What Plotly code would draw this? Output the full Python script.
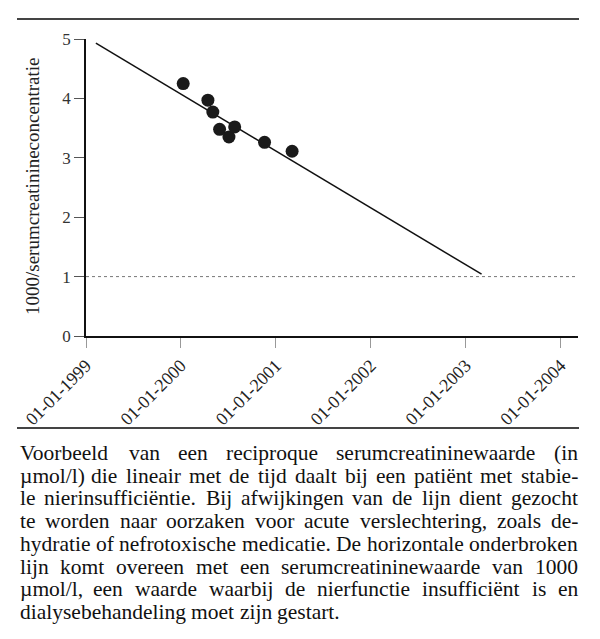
import plotly.graph_objects as go

# data
point_dates = ["2000-01-10", "2000-04-14", "2000-05-03", "2000-05-29",
               "2000-07-04", "2000-07-26", "2000-11-18", "2001-03-04"]
point_values = [4.25, 3.97, 3.77, 3.48, 3.35, 3.52, 3.26, 3.11]
trend_dates = ["1999-02-08", "2003-03-03"]
trend_values = [4.93, 1.04]
threshold = 1
tick_dates = ["1999-01-01", "2000-01-01", "2001-01-01", "2002-01-01", "2003-01-01", "2004-01-01"]
tick_labels = ["01-01-1999", "01-01-2000", "01-01-2001", "01-01-2002", "01-01-2003", "01-01-2004"]
y_ticks = [0, 1, 2, 3, 4, 5]
y_title = "1000/serumcreatinineconcentratie"
caption_lines = [
    "Voorbeeld van een reciproque serumcreatininewaarde (in",
    "µmol/l) die lineair met de tijd daalt bij een patiënt met stabie-",
    "le nierinsufficiëntie. Bij afwijkingen van de lijn dient gezocht",
    "te worden naar oorzaken voor acute verslechtering, zoals de-",
    "hydratie of nefrotoxische medicatie. De horizontale onderbroken",
    "lijn komt overeen met een serumcreatininewaarde van 1000",
    "µmol/l, een waarde waarbij de nierfunctie insufficiënt is en",
    "dialysebehandeling moet zijn gestart.",
]

SERIF = "Liberation Serif"
OFF = 8  # page body margin
W, H = 600 - OFF, 639 - OFF
# plot area in page pixels
PL, PR, PT, PB = 86, 578, 39, 336
L, T = PL - OFF, PT - OFF
R, B = W - (PR - OFF), H - (PB - OFF)
pw, ph = W - L - R, H - T - B

def px_x(x):
    return (x - PL) / pw

def px_y(y):
    return (PB - y) / ph

# Times-compatible advance widths (per 1000 em) for caption justification
TW = {' ': 250, '(': 333, ')': 333, ',': 250, '-': 333, '.': 250, '/': 278,
      'B': 667, 'D': 722, 'V': 722,
      'a': 444, 'b': 500, 'c': 444, 'd': 500, 'e': 444, 'f': 333, 'g': 500, 'h': 500,
      'i': 278, 'j': 278, 'k': 500, 'l': 278, 'm': 778, 'n': 500, 'o': 500, 'p': 500,
      'q': 500, 'r': 333, 's': 389, 't': 278, 'u': 500, 'v': 500, 'w': 722, 'x': 500,
      'y': 500, 'z': 444, 'ë': 444, 'µ': 500}

def tw(s, size):
    return sum(TW.get(c, 500) for c in s) * size / 1000.0

fig = go.Figure()
fig.add_trace(go.Scatter(x=trend_dates, y=trend_values, mode="lines",
                         line=dict(color="#111", width=1.5), hoverinfo="skip"))
fig.add_trace(go.Scatter(x=point_dates, y=point_values, mode="markers",
                         marker=dict(color="#1a1a1a", size=13, line=dict(width=0))))

fig.add_shape(type="line", xref="paper", yref="y", x0=0, x1=1, y0=threshold, y1=threshold,
              line=dict(color="#777", width=1, dash="dot"))
for yy in (19, 428):
    fig.add_shape(type="line", xref="paper", yref="paper", x0=px_x(17), x1=px_x(579),
                  y0=px_y(yy), y1=px_y(yy), line=dict(color="#444", width=2))

annotations = [dict(text=y_title, xref="paper", yref="paper", x=px_x(32), y=px_y(187),
                    textangle=-90, showarrow=False, font=dict(family=SERIF, size=19, color="#222"),
                    xanchor="center", yanchor="middle")]

CAP_SIZE = 21.5
CAP_LEFT, CAP_RIGHT = 20, 578
for i, line in enumerate(caption_lines):
    yc = 453 + i * 22.7
    words = line.split(" ")
    widths = [tw(w, CAP_SIZE) for w in words]
    if i < len(caption_lines) - 1 and len(words) > 1:
        gap = (CAP_RIGHT - CAP_LEFT - sum(widths)) / (len(words) - 1)
    else:
        gap = tw(" ", CAP_SIZE)
    x = CAP_LEFT
    for w, wd in zip(words, widths):
        annotations.append(dict(text=w, xref="paper", yref="paper", x=px_x(x), y=px_y(yc),
                                xanchor="left", yanchor="middle", showarrow=False,
                                borderpad=0, borderwidth=0,
                                font=dict(family=SERIF, size=CAP_SIZE, color="#111")))
        x += wd + gap

fig.update_layout(
    width=W, height=H, margin=dict(l=L, r=R, t=T, b=B, autoexpand=False),
    paper_bgcolor="white", plot_bgcolor="white", showlegend=False,
    annotations=annotations,
    xaxis=dict(type="date", range=["1999-01-01", "2004-03-08"], tickvals=tick_dates,
               ticktext=tick_labels, tickangle=-45, ticks="outside", ticklen=10,
               tickcolor="#999", tickwidth=1, showline=True, linecolor="#111", linewidth=2,
               showgrid=False, zeroline=False, tickfont=dict(family=SERIF, size=18, color="#222")),
    yaxis=dict(range=[0, 5], tickvals=y_ticks, ticks="outside", ticklen=10, tickcolor="#555",
               tickwidth=1, showline=True, linecolor="#111", linewidth=1.5, showgrid=False,
               zeroline=False, tickfont=dict(family=SERIF, size=17, color="#333")),
)
fig.write_html("out.html")
